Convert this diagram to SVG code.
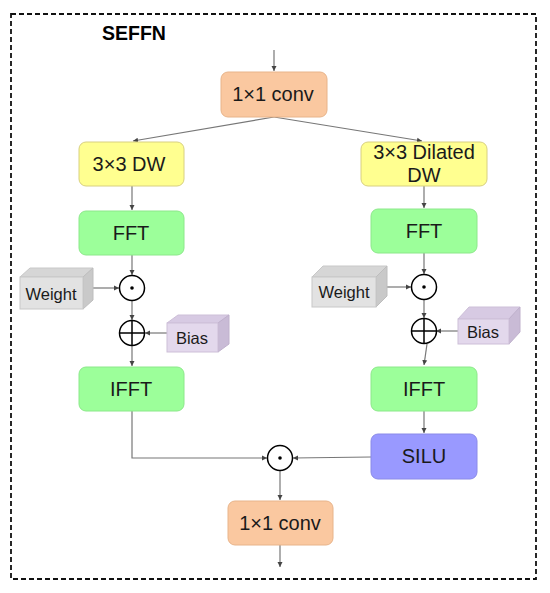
<svg xmlns="http://www.w3.org/2000/svg" width="550" height="593" viewBox="0 0 550 593">
<style>
.lbl{font-family:"Liberation Sans",Arial,sans-serif;font-size:20px;fill:#1a1a1a;text-anchor:middle}
.sm{font-family:"Liberation Sans",Arial,sans-serif;font-size:16.5px;fill:#1a1a1a;text-anchor:middle}
.ttl{font-family:"Liberation Sans",Arial,sans-serif;font-size:19.5px;font-weight:bold;fill:#000}
.conv{fill:#FAC8A0;stroke:#E8B48A;stroke-width:1}
.dw{fill:#FFFF90;stroke:#D8D080;stroke-width:1}
.fft{fill:#9CFF9A;stroke:#8CE88A;stroke-width:1}
.silu{fill:#9999FF;stroke:#8A8AE8;stroke-width:1}
.op{fill:#fff;stroke:#000;stroke-width:1.5}
.ln{fill:none;stroke:#777;stroke-width:1.2;marker-end:url(#ah)}
.wf{fill:#E2E2E2;stroke:#C8C8C8;stroke-width:1}
.wt{fill:#D6D6D6;stroke:#C8C8C8;stroke-width:1}
.ws{fill:#C9C9C9;stroke:#BDBDBD;stroke-width:1}
.bf{fill:#E3D8EC;stroke:#CDBFD8;stroke-width:1}
.bt{fill:#D7CAE3;stroke:#CDBFD8;stroke-width:1}
.bs{fill:#C9BBD6;stroke:#BFB0CC;stroke-width:1}
</style>
<defs>
<marker id="ah" markerWidth="6" markerHeight="6" refX="5" refY="3" orient="auto" markerUnits="userSpaceOnUse">
<path d="M0,0.5 L5,3 L0,5.5 Z" fill="#444"/>
</marker>
</defs>
<rect x="11" y="14" width="525" height="565" fill="none" stroke="#111" stroke-width="1.8" stroke-dasharray="5,3"/>
<text class="ttl" x="102" y="40">SEFFN</text>

<g id="connectors">
<path class="ln" d="M274,50 L274,71"/>
<path class="ln" d="M274,117 L133,141"/>
<path class="ln" d="M274,117 L422,141"/>
<path class="ln" d="M132,186 L132,210"/>
<path class="ln" d="M424,186 L424,208"/>
<path class="ln" d="M132,255 L132,275"/>
<path class="ln" d="M424,253 L424,274"/>
<path class="ln" d="M93,288 L119,288"/>
<path class="ln" d="M387,287 L411,287"/>
<path class="ln" d="M132,301 L132,320"/>
<path class="ln" d="M424,300 L424,318"/>
<path class="ln" d="M167,333 L145,333"/>
<path class="ln" d="M458,331 L436,331"/>
<path class="ln" d="M132,346 L132,366"/>
<path class="ln" d="M427,344 L424,365"/>
<path class="ln" d="M424,411 L424,433"/>
<path class="ln" d="M132,411 L132,458 L267,458"/>
<path class="ln" d="M371,457 L293,458"/>
<path class="ln" d="M280,471 L280,500"/>
<path class="ln" d="M280,545 L280,567"/>
</g>

<g id="conv1">
<rect class="conv" x="221" y="72" width="106" height="45" rx="7"/>
<text class="lbl" x="273" y="101">1×1 conv</text>
</g>
<g id="dw">
<rect class="dw" x="79" y="142" width="105" height="44" rx="7"/>
<text class="lbl" x="129" y="171">3×3 DW</text>
</g>
<g id="dilated">
<rect class="dw" x="361" y="142" width="126" height="44" rx="7"/>
<text class="lbl" x="424" y="159">3×3 Dilated</text>
<text class="lbl" x="424" y="182">DW</text>
</g>
<g id="fft_left">
<rect class="fft" x="79" y="211" width="105" height="44" rx="7"/>
<text class="lbl" x="131" y="240">FFT</text>
</g>
<g id="fft_right">
<rect class="fft" x="371" y="209" width="106" height="44" rx="7"/>
<text class="lbl" x="424" y="238">FFT</text>
</g>
<g id="mul_left">
<circle class="op" cx="132" cy="288" r="12.5"/>
<circle cx="132" cy="288" r="1.8" fill="#000"/>
</g>
<g id="mul_right">
<circle class="op" cx="424" cy="287" r="12.5"/>
<circle cx="424" cy="287" r="1.8" fill="#000"/>
</g>
<g id="add_left">
<circle class="op" cx="132" cy="333" r="12.5"/>
<path d="M119.5,333 H144.5 M132,320.5 V345.5" stroke="#000" stroke-width="1.5"/>
</g>
<g id="add_right">
<circle class="op" cx="424" cy="331" r="12.5"/>
<path d="M411.5,331 H436.5 M424,318.5 V343.5" stroke="#000" stroke-width="1.5"/>
</g>
<g id="weight_left">
<path class="wt" d="M20,277 L30,268 L93,268 L83,277 Z"/>
<path class="ws" d="M83,277 L93,268 L93,300 L83,309 Z"/>
<rect class="wf" x="20" y="277" width="63" height="32"/>
<text class="sm" x="51" y="300">Weight</text>
</g>
<g id="weight_right">
<path class="wt" d="M312,277 L323,266 L387,266 L376,277 Z"/>
<path class="ws" d="M376,277 L387,266 L387,296 L376,307 Z"/>
<rect class="wf" x="312" y="277" width="64" height="30"/>
<text class="sm" x="344" y="298">Weight</text>
</g>
<g id="bias_left">
<path class="bt" d="M167,323 L178,315 L229,315 L218,323 Z"/>
<path class="bs" d="M218,323 L229,315 L229,344 L218,352 Z"/>
<rect class="bf" x="167" y="323" width="51" height="29"/>
<text class="sm" x="192" y="344">Bias</text>
</g>
<g id="bias_right">
<path class="bt" d="M458,319 L469,307 L520,307 L509,319 Z"/>
<path class="bs" d="M509,319 L520,307 L520,332 L509,344 Z"/>
<rect class="bf" x="458" y="319" width="51" height="25"/>
<text class="sm" x="483" y="338">Bias</text>
</g>
<g id="ifft_left">
<rect class="fft" x="79" y="367" width="105" height="44" rx="7"/>
<text class="lbl" x="131" y="396">IFFT</text>
</g>
<g id="ifft_right">
<rect class="fft" x="371" y="367" width="106" height="44" rx="7"/>
<text class="lbl" x="424" y="396">IFFT</text>
</g>
<g id="silu">
<rect class="silu" x="371" y="434" width="106" height="45" rx="7"/>
<text class="lbl" x="424" y="463">SILU</text>
</g>
<g id="mul_bottom">
<circle class="op" cx="280" cy="458" r="12.5"/>
<circle cx="280" cy="458" r="1.8" fill="#000"/>
</g>
<g id="conv2">
<rect class="conv" x="228" y="501" width="105" height="44" rx="7"/>
<text class="lbl" x="280" y="530">1×1 conv</text>
</g>
</svg>
